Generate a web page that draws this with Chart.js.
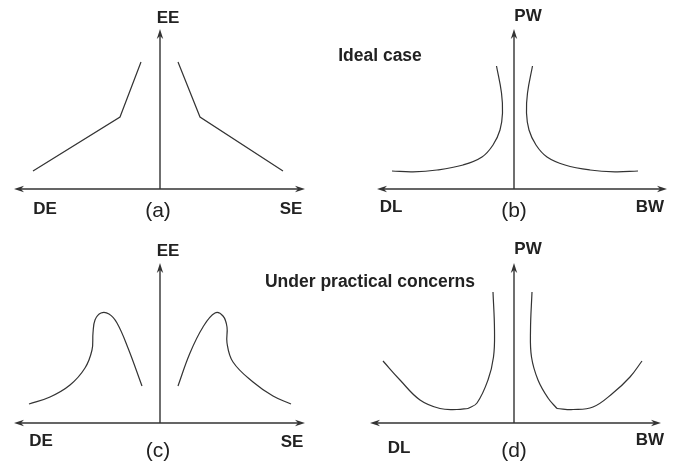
<!DOCTYPE html>
<html>
<head>
<meta charset="utf-8">
<title>Ideal case / Under practical concerns</title>
<script src="https://cdn.jsdelivr.net/npm/chart.js@4/dist/chart.umd.min.js"></script>
<style>
  body { margin: 0; background: #fff; }
  #wrap { position: relative; width: 684px; height: 463px; font-family: "Liberation Sans", Arial, sans-serif; color: #222; overflow: hidden; }
  #wrap canvas { position: absolute; }
  .lbl { position: absolute; transform: translate(-50%, -50%); font-weight: bold; font-size: 17px; line-height: 1; white-space: nowrap; }
  .tag { position: absolute; transform: translate(-50%, -50%); font-size: 21px; line-height: 1; white-space: nowrap; }
</style>
</head>
<body>
<div id="wrap">
  <canvas id="panelA" width="342" height="232" style="left:0;top:0"></canvas>
  <canvas id="panelB" width="342" height="232" style="left:342px;top:0"></canvas>
  <canvas id="panelC" width="342" height="231" style="left:0;top:232px"></canvas>
  <canvas id="panelD" width="342" height="231" style="left:342px;top:232px"></canvas>
</div>
<script>
// textos
const titulos = ["Ideal case", "Under practical concerns"];
const ejesA = ["DE", "SE", "EE", "(a)"];
const ejesB = ["DL", "BW", "PW", "(b)"];
const ejesC = ["DE", "SE", "EE", "(c)"];
const ejesD = ["DL", "BW", "PW", "(d)"];

// curvas (x, y), unidades arbitrarias
const aIzq = [[-12.7, 1.8], [-4.0, 7.2], [-1.9, 12.7]];
const aDer = [[1.8, 12.7], [4.0, 7.2], [12.3, 1.8]];

const bIzq = [[-12.2, 1.8], [-10.1, 1.72], [-7.7, 1.9], [-5.1, 2.4], [-3.2, 3.2], [-2.1, 4.4], [-1.4, 5.9], [-1.15, 7.6], [-1.25, 9.6], [-1.75, 12.3]];
const bDer = [[1.85, 12.3], [1.35, 9.6], [1.25, 7.6], [1.5, 5.9], [2.2, 4.4], [3.3, 3.2], [5.1, 2.4], [7.6, 1.9], [10.1, 1.72], [12.4, 1.8]];

const cIzq = [[-13.1, 1.9], [-11.0, 2.6], [-9.0, 3.8], [-7.5, 5.5], [-6.8, 7.3], [-6.7, 9.0], [-6.5, 10.3], [-5.9, 11.0], [-5.1, 10.9], [-4.3, 10.0], [-3.2, 7.5], [-1.8, 3.7]];
const cDer = [[1.8, 3.7], [3.0, 7.0], [4.3, 9.6], [5.5, 11.0], [6.3, 10.7], [6.7, 9.6], [6.7, 8.0], [7.3, 6.1], [9.3, 4.1], [11.3, 2.7], [13.1, 1.9]];

const dIzqValle = [[-13.1, 6.2], [-11.4, 4.3], [-9.4, 2.3], [-7.4, 1.45], [-5.7, 1.35], [-4.6, 1.45]];
const dIzqSubida = [[-4.6, 1.45], [-3.7, 2.0], [-2.6, 4.3], [-2.05, 6.6], [-1.95, 9.3], [-2.1, 13.1]];
const dDerSubida = [[1.8, 13.1], [1.65, 9.3], [1.75, 6.6], [2.4, 4.3], [3.4, 2.5], [4.3, 1.45]];
const dDerValle = [[4.3, 1.45], [5.9, 1.35], [7.9, 1.6], [9.9, 3.0], [11.6, 4.6], [12.8, 6.2]];

const COLOR = "#333";

// ejes con flechas, dibujados con las escalas del chart
const flechas = {
  id: "flechas",
  beforeDatasetsDraw(chart) {
    const { ctx, scales: { x, y } } = chart;
    const x0 = x.getPixelForValue(0);
    const y0 = y.getPixelForValue(0);
    const izq = x.getPixelForValue(x.min);
    const der = x.getPixelForValue(x.max);
    const arriba = y.getPixelForValue(y.max);
    ctx.save();
    ctx.strokeStyle = COLOR;
    ctx.fillStyle = COLOR;
    ctx.lineWidth = 1.4;
    ctx.beginPath();
    ctx.moveTo(izq + 4, y0); ctx.lineTo(der - 4, y0);
    ctx.moveTo(x0, y0); ctx.lineTo(x0, arriba + 4);
    ctx.stroke();
    const punta = (px, py, dx, dy) => {
      const L = 10, W = 3.2;
      ctx.beginPath();
      ctx.moveTo(px, py);
      ctx.lineTo(px - dx * L - dy * W, py - dy * L + dx * W);
      ctx.lineTo(px - dx * L * 0.7, py - dy * L * 0.7);
      ctx.lineTo(px - dx * L + dy * W, py - dy * L - dx * W);
      ctx.closePath();
      ctx.fill();
    };
    punta(izq, y0, -1, 0);
    punta(der, y0, 1, 0);
    punta(x0, arriba, 0, -1);
    ctx.restore();
  }
};

function serie(puntos, tension) {
  return {
    data: puntos.map(p => ({ x: p[0], y: p[1] })),
    showLine: true,
    borderColor: COLOR,
    borderWidth: 1.2,
    pointRadius: 0,
    tension: tension,
    clip: false
  };
}

function crearPanel(id, curvas, tension, xMin, xMax, yMax, pad) {
  new Chart(document.getElementById(id), {
    type: "scatter",
    data: { datasets: curvas.map(c => serie(c, tension)) },
    options: {
      responsive: false,
      animation: false,
      layout: { padding: pad },
      plugins: { legend: { display: false }, tooltip: { enabled: false } },
      scales: {
        x: { type: "linear", min: xMin, max: xMax, display: false },
        y: { type: "linear", min: 0, max: yMax, display: false }
      }
    },
    plugins: [flechas]
  });
}

crearPanel("panelA", [aIzq, aDer], 0, -14.6, 14.5, 16, { left: 14, right: 37, top: 29, bottom: 43 });
crearPanel("panelB", [bIzq, bDer], 0.4, -13.7, 15.3, 16, { left: 35, right: 17, top: 29, bottom: 43 });
crearPanel("panelC", [cIzq, cDer], 0.4, -14.6, 14.5, 16, { left: 14, right: 37, top: 31, bottom: 40 });
crearPanel("panelD", [dIzqValle, dIzqSubida, dDerSubida, dDerValle], 0.4, -14.4, 14.7, 16, { left: 28, right: 23, top: 31, bottom: 40 });

// textos en el DOM
const wrap = document.getElementById("wrap");
function texto(t, x, y, clase, size) {
  const el = document.createElement("div");
  el.className = clase;
  el.textContent = t;
  el.style.left = x + "px";
  el.style.top = y + "px";
  if (size) el.style.fontSize = size + "px";
  wrap.appendChild(el);
}
const posA = [[45, 208], [291, 208], [168, 17], [158, 209]];
const posB = [[391, 206], [650, 206], [528, 15], [514, 209]];
const posC = [[41, 440], [292, 441], [168, 250], [158, 449]];
const posD = [[399, 447], [650, 439], [528, 248], [514, 449]];
[[ejesA, posA], [ejesB, posB], [ejesC, posC], [ejesD, posD]].forEach(([ts, ps]) => {
  ts.forEach((t, i) => texto(t, ps[i][0], ps[i][1], i === 3 ? "tag" : "lbl"));
});
texto(titulos[0], 380, 56, "lbl", 17.5);
texto(titulos[1], 370, 282, "lbl", 17.5);
</script>
</body>
</html>
